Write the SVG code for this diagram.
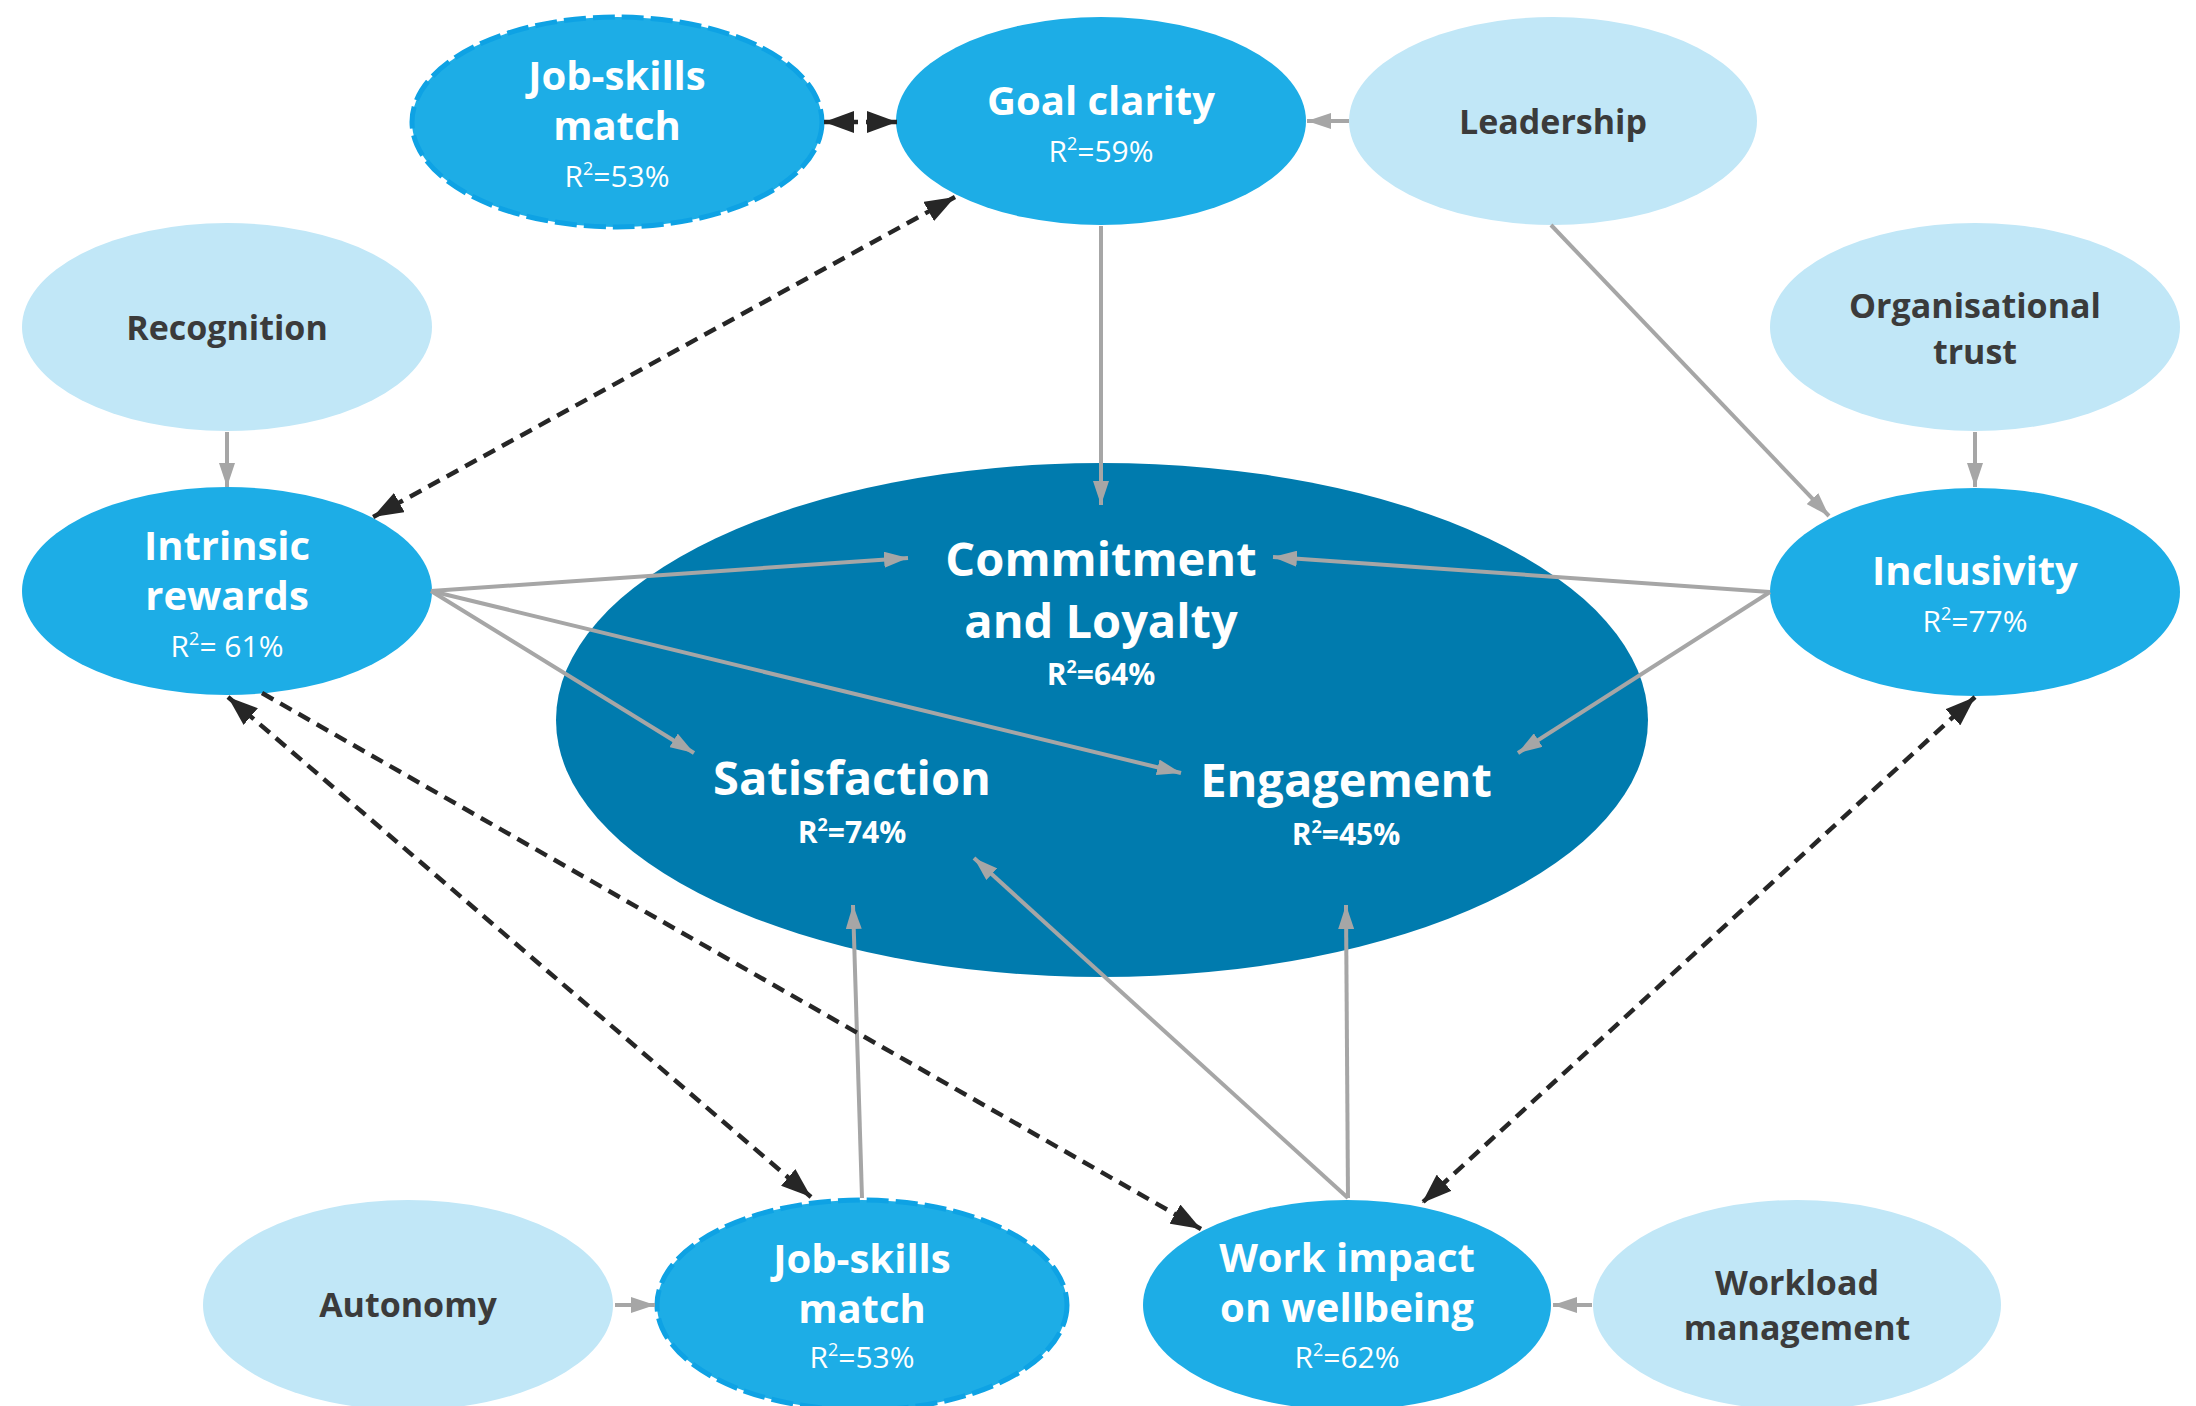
<svg xmlns="http://www.w3.org/2000/svg" width="2196" height="1406" viewBox="0 0 2196 1406">
  <defs>
    <style>
      text { font-family: "Open Sans", "Noto Sans", "DejaVu Sans", sans-serif; text-anchor: middle; }
      .light { fill: #C1E7F7; }
      .mid { fill: #1DADE6; }
      .core { fill: #007BAE; }
      .dashed-node { fill: #1DADE6; stroke: #0EA2E4; stroke-width: 5; stroke-dasharray: 22 7; }
      .t-white { fill: #FFFFFF; font-weight: 700; font-size: 40px; }
      .t-dark { fill: #3B3B3B; font-weight: 700; font-size: 34px; }
      .t-r2 { fill: #FFFFFF; font-weight: 400; font-size: 30px; }
      .t-big { fill: #FFFFFF; font-weight: 700; font-size: 47px; }
      .t-big-r2 { fill: #FFFFFF; font-weight: 700; font-size: 30px; }
      .sup { font-size: 18px; }
      .path { fill: none; stroke: #A6A6A6; stroke-width: 4; marker-end: url(#arrow-grey); }
      .corr { fill: none; stroke: #262626; stroke-width: 4.5; stroke-dasharray: 13 8; marker-end: url(#arrow-dark); }
      .corr.both { marker-start: url(#arrow-dark); }
    </style>
    <marker id="arrow-grey" viewBox="0 0 24 16" refX="24" refY="8" markerWidth="24" markerHeight="16" markerUnits="userSpaceOnUse" orient="auto-start-reverse">
      <path d="M0,0 L24,8 L0,16 z" fill="#A6A6A6"/>
    </marker>
    <marker id="arrow-dark" viewBox="0 0 30 22" refX="30" refY="11" markerWidth="30" markerHeight="22" markerUnits="userSpaceOnUse" orient="auto-start-reverse">
      <path d="M0,0 L30,11 L0,22 z" fill="#262626"/>
    </marker>
  </defs>

  <rect width="2196" height="1406" fill="#FFFFFF"/>

  <!-- central outcome block -->
  <g id="outcomes">
    <ellipse class="core" cx="1102" cy="720" rx="546" ry="257"/>
    <text class="t-big" x="1101" y="576">Commitment</text>
    <text class="t-big" x="1101" y="638">and Loyalty</text>
    <text class="t-big-r2" x="1101" y="685">R<tspan class="sup" dy="-12">2</tspan><tspan dy="12">=64%</tspan></text>
  </g>
  <g id="satisfaction">
    <text class="t-big" x="852" y="795">Satisfaction</text>
    <text class="t-big-r2" x="852" y="843">R<tspan class="sup" dy="-12">2</tspan><tspan dy="12">=74%</tspan></text>
  </g>
  <g id="engagement">
    <text class="t-big" x="1346" y="797">Engagement</text>
    <text class="t-big-r2" x="1346" y="845">R<tspan class="sup" dy="-12">2</tspan><tspan dy="12">=45%</tspan></text>
  </g>

  <!-- drivers -->
  <g id="job-skills-top">
    <ellipse class="dashed-node" cx="617" cy="122" rx="205" ry="105"/>
    <text class="t-white" x="617" y="90">Job-skills</text>
    <text class="t-white" x="617" y="140">match</text>
    <text class="t-r2" x="617" y="187">R<tspan class="sup" dy="-12">2</tspan><tspan dy="12">=53%</tspan></text>
  </g>
  <g id="goal-clarity">
    <ellipse class="mid" cx="1101" cy="121" rx="205" ry="104"/>
    <text class="t-white" x="1101" y="115">Goal clarity</text>
    <text class="t-r2" x="1101" y="162">R<tspan class="sup" dy="-12">2</tspan><tspan dy="12">=59%</tspan></text>
  </g>
  <g id="leadership">
    <ellipse class="light" cx="1553" cy="121" rx="204" ry="104"/>
    <text class="t-dark" x="1553" y="134">Leadership</text>
  </g>
  <g id="recognition">
    <ellipse class="light" cx="227" cy="327" rx="205" ry="104"/>
    <text class="t-dark" x="227" y="340">Recognition</text>
  </g>
  <g id="organisational-trust">
    <ellipse class="light" cx="1975" cy="327" rx="205" ry="104"/>
    <text class="t-dark" x="1975" y="318">Organisational</text>
    <text class="t-dark" x="1975" y="364">trust</text>
  </g>
  <g id="intrinsic-rewards">
    <ellipse class="mid" cx="227" cy="591" rx="205" ry="104"/>
    <text class="t-white" x="227" y="560">Intrinsic</text>
    <text class="t-white" x="227" y="610">rewards</text>
    <text class="t-r2" x="227" y="657">R<tspan class="sup" dy="-12">2</tspan><tspan dy="12">= 61%</tspan></text>
  </g>
  <g id="inclusivity">
    <ellipse class="mid" cx="1975" cy="592" rx="205" ry="104"/>
    <text class="t-white" x="1975" y="585">Inclusivity</text>
    <text class="t-r2" x="1975" y="632">R<tspan class="sup" dy="-12">2</tspan><tspan dy="12">=77%</tspan></text>
  </g>
  <g id="autonomy">
    <ellipse class="light" cx="408" cy="1305" rx="205" ry="105"/>
    <text class="t-dark" x="408" y="1317">Autonomy</text>
  </g>
  <g id="job-skills-bottom">
    <ellipse class="dashed-node" cx="862" cy="1305" rx="205" ry="105"/>
    <text class="t-white" x="862" y="1273">Job-skills</text>
    <text class="t-white" x="862" y="1323">match</text>
    <text class="t-r2" x="862" y="1368">R<tspan class="sup" dy="-12">2</tspan><tspan dy="12">=53%</tspan></text>
  </g>
  <g id="work-impact">
    <ellipse class="mid" cx="1347" cy="1305" rx="204" ry="105"/>
    <text class="t-white" x="1347" y="1272">Work impact</text>
    <text class="t-white" x="1347" y="1322">on wellbeing</text>
    <text class="t-r2" x="1347" y="1368">R<tspan class="sup" dy="-12">2</tspan><tspan dy="12">=62%</tspan></text>
  </g>
  <g id="workload-management">
    <ellipse class="light" cx="1797" cy="1305" rx="204" ry="105"/>
    <text class="t-dark" x="1797" y="1295">Workload</text>
    <text class="t-dark" x="1797" y="1340">management</text>
  </g>

  <!-- connectors: grey = paths, dark dashed = correlations -->
  <g id="connectors">
    <line class="path" x1="1349" y1="121" x2="1307" y2="121"/>
    <line class="path" x1="1551" y1="225" x2="1829" y2="516"/>
    <line class="path" x1="1975" y1="432" x2="1975" y2="487"/>
    <line class="path" x1="227" y1="432" x2="227" y2="487"/>
    <line class="path" x1="1101" y1="226" x2="1101" y2="505"/>
    <line class="path" x1="431" y1="591" x2="908" y2="558"/>
    <line class="path" x1="431" y1="591" x2="694" y2="753"/>
    <line class="path" x1="431" y1="591" x2="1181" y2="773"/>
    <line class="path" x1="1770" y1="592" x2="1273" y2="557"/>
    <line class="path" x1="1770" y1="592" x2="1518" y2="753"/>
    <line class="path" x1="862" y1="1198" x2="853" y2="905"/>
    <line class="path" x1="1348" y1="1198" x2="974" y2="858"/>
    <line class="path" x1="1348" y1="1198" x2="1346" y2="905"/>
    <line class="path" x1="615" y1="1305" x2="655" y2="1305"/>
    <line class="path" x1="1592" y1="1305" x2="1553" y2="1305"/>

    <line class="corr both" x1="824" y1="122" x2="897" y2="122"/>
    <line class="corr both" x1="955" y1="197" x2="373" y2="517"/>
    <line class="corr both" x1="228" y1="697" x2="811" y2="1197"/>
    <line class="corr" x1="262" y1="693" x2="1201" y2="1229"/>
    <line class="corr both" x1="1975" y1="697" x2="1422" y2="1203"/>
  </g>
</svg>
